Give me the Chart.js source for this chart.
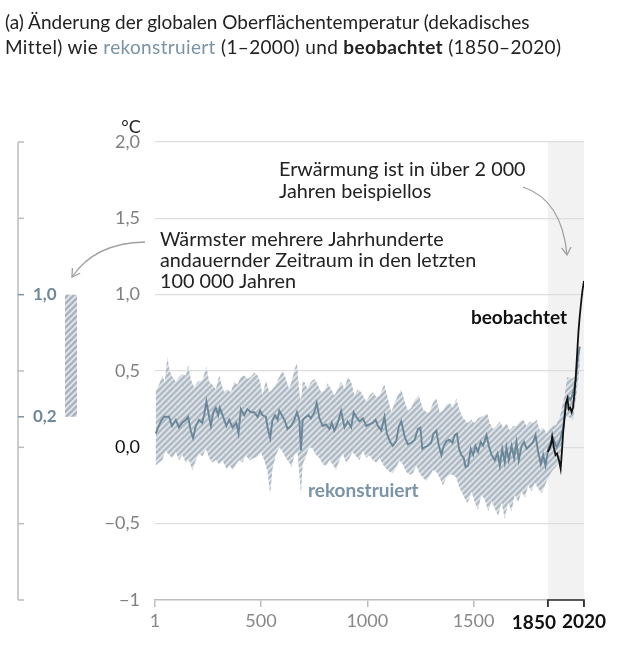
<!DOCTYPE html>
<html lang="de">
<head>
<meta charset="utf-8">
<script src="https://cdn.jsdelivr.net/npm/chart.js@4.4.0/dist/chart.umd.min.js"></script>
<style>
  html, body { margin: 0; padding: 0; background: #fff; }
  #wrap { position: relative; width: 620px; height: 648px; overflow: hidden; }
  #titel { position: absolute; left: 5px; top: 9px; font: 19px Lato, sans-serif; line-height: 25px; color: #222; white-space: nowrap; z-index: 2; }
  #titel .rek { color: #7a93a6; }
  #titel .z2 { letter-spacing: 0.35px; }
  #grafik { position: absolute; left: 0; top: 0; }
</style>
</head>
<body>
<div id="wrap">
  <div id="titel">(a) Änderung der globalen Oberflächentemperatur (dekadisches<br><span class="z2">Mittel) wie <span class="rek">rekonstruiert</span> (1–2000) und <b>beobachtet</b> (1850–2020)</span></div>
  <canvas id="grafik" width="620" height="648"></canvas>
</div>
<script>
// Rekonstruiert (Median, dekadisch)
const rekJahre = [4, 28, 43, 67, 81, 99, 114, 128, 146, 157, 169, 180, 193, 208, 223, 232, 243, 256, 264, 275, 287, 298, 306, 322, 337, 350, 366, 384, 394, 405, 421, 436, 452, 468, 484, 496, 507, 523, 531, 543, 554, 566, 578, 586, 602, 613, 625, 641, 657, 669, 680, 688, 696, 712, 723, 735, 751, 762, 775, 790, 806, 822, 833, 845, 861, 877, 893, 908, 924, 936, 948, 963, 979, 995, 1010, 1026, 1039, 1050, 1066, 1081, 1092, 1108, 1120, 1136, 1149, 1160, 1176, 1191, 1207, 1223, 1238, 1250, 1259, 1270, 1285, 1301, 1312, 1325, 1337, 1349, 1360, 1372, 1385, 1401, 1411, 1422, 1432, 1443, 1454, 1463, 1474, 1487, 1498, 1509, 1521, 1534, 1545, 1561, 1572, 1585, 1600, 1613, 1624, 1635, 1647, 1655, 1666, 1679, 1691, 1702, 1713, 1726, 1738, 1750, 1765, 1781, 1792, 1804, 1817, 1828, 1839, 1852, 1864, 1875, 1891, 1907, 1922, 1935, 1946, 1957, 1969, 1982, 1990, 2000];
const rekMedian = [0.09, 0.17, 0.20, 0.20, 0.14, 0.18, 0.13, 0.16, 0.18, 0.20, 0.11, 0.06, 0.14, 0.18, 0.16, 0.21, 0.30, 0.20, 0.14, 0.23, 0.26, 0.21, 0.26, 0.20, 0.14, 0.18, 0.13, 0.16, 0.09, 0.25, 0.21, 0.25, 0.23, 0.23, 0.20, 0.24, 0.21, 0.20, 0.13, 0.06, 0.18, 0.21, 0.18, 0.24, 0.20, 0.17, 0.12, 0.14, 0.18, 0.23, 0.18, -0.02, 0.18, 0.20, 0.21, 0.19, 0.23, 0.29, 0.19, 0.14, 0.15, 0.12, 0.16, 0.11, 0.16, 0.24, 0.13, 0.17, 0.13, 0.23, 0.20, 0.17, 0.19, 0.14, 0.15, 0.16, 0.18, 0.14, 0.11, 0.20, 0.09, 0.035, 0.01, 0.04, 0.14, 0.17, 0.07, 0.02, 0.03, 0.05, 0.12, 0.13, -0.01, 0.0, 0.01, 0.03, 0.09, 0.11, 0.01, -0.05, 0.01, 0.04, 0.05, 0.03, 0.08, 0.09, -0.01, -0.05, -0.07, -0.13, -0.12, -0.01, -0.05, 0.01, -0.03, 0.035, 0.01, 0.08, 0.01, -0.05, -0.085, -0.04, -0.12, -0.01, -0.10, 0.0, -0.085, 0.01, -0.07, 0.035, -0.085, 0.01, 0.035, -0.01, 0.01, 0.035, 0.08, -0.03, -0.11, -0.05, -0.12, -0.01, 0.035, 0.06, 0.0, 0.045, 0.13, 0.29, 0.33, 0.31, 0.36, 0.44, 0.57, 0.66];

// Obere und untere Grenze des Unsicherheitsbandes
const obenJahre = [4, 20, 35, 47, 59, 70, 83, 99, 114, 130, 146, 157, 169, 185, 201, 224, 243, 256, 271, 287, 303, 311, 326, 342, 358, 374, 389, 405, 421, 436, 452, 468, 484, 496, 507, 523, 539, 554, 570, 586, 602, 617, 633, 649, 660, 669, 680, 688, 696, 704, 719, 735, 751, 767, 783, 798, 814, 830, 845, 861, 877, 893, 908, 924, 940, 955, 971, 979, 995, 1010, 1026, 1042, 1058, 1073, 1081, 1097, 1113, 1128, 1144, 1160, 1176, 1191, 1207, 1223, 1243, 1262, 1278, 1293, 1309, 1325, 1341, 1356, 1372, 1388, 1403, 1419, 1435, 1451, 1467, 1474, 1490, 1506, 1521, 1537, 1553, 1565, 1576, 1592, 1608, 1624, 1639, 1655, 1671, 1687, 1702, 1718, 1734, 1750, 1765, 1781, 1797, 1812, 1828, 1844, 1860, 1875, 1890, 1907, 1930, 1941, 1961, 1977, 1985, 1997, 2000];
const obenWerte = [0.37, 0.41, 0.47, 0.43, 0.59, 0.50, 0.46, 0.43, 0.46, 0.48, 0.47, 0.54, 0.45, 0.39, 0.43, 0.44, 0.53, 0.43, 0.41, 0.38, 0.47, 0.43, 0.36, 0.38, 0.36, 0.43, 0.41, 0.46, 0.47, 0.45, 0.46, 0.49, 0.47, 0.43, 0.34, 0.44, 0.36, 0.38, 0.41, 0.46, 0.50, 0.45, 0.38, 0.46, 0.52, 0.55, 0.36, 0.30, 0.43, 0.43, 0.38, 0.43, 0.45, 0.41, 0.36, 0.37, 0.42, 0.38, 0.34, 0.38, 0.43, 0.38, 0.46, 0.43, 0.34, 0.38, 0.36, 0.34, 0.30, 0.34, 0.36, 0.33, 0.34, 0.39, 0.41, 0.32, 0.23, 0.29, 0.34, 0.38, 0.30, 0.24, 0.26, 0.31, 0.34, 0.25, 0.23, 0.23, 0.29, 0.32, 0.23, 0.24, 0.28, 0.29, 0.26, 0.32, 0.24, 0.19, 0.17, 0.16, 0.18, 0.16, 0.19, 0.20, 0.21, 0.22, 0.16, 0.12, 0.14, 0.17, 0.13, 0.16, 0.11, 0.14, 0.14, 0.17, 0.18, 0.14, 0.17, 0.16, 0.18, 0.11, 0.13, 0.09, 0.12, 0.14, 0.15, 0.20, 0.35, 0.46, 0.45, 0.46, 0.57, 0.66, 0.68];
const untenJahre = [4, 20, 35, 51, 67, 83, 99, 114, 130, 146, 161, 177, 193, 208, 224, 240, 256, 271, 287, 303, 318, 337, 353, 369, 382, 397, 413, 429, 444, 468, 484, 499, 515, 531, 543, 554, 570, 586, 602, 617, 633, 644, 657, 672, 688, 696, 712, 727, 743, 759, 775, 790, 806, 822, 837, 853, 869, 885, 900, 916, 932, 948, 963, 979, 995, 1010, 1026, 1042, 1058, 1073, 1089, 1105, 1120, 1136, 1152, 1167, 1183, 1199, 1215, 1231, 1246, 1262, 1278, 1293, 1309, 1325, 1341, 1356, 1372, 1388, 1403, 1419, 1435, 1451, 1467, 1474, 1490, 1506, 1521, 1537, 1553, 1569, 1585, 1600, 1616, 1632, 1647, 1663, 1679, 1694, 1710, 1726, 1742, 1757, 1773, 1789, 1804, 1820, 1836, 1852, 1867, 1879, 1892, 1907, 1930, 1946, 1969, 1985, 1997, 2000];
const untenWerte = [-0.12, -0.10, -0.085, -0.02, -0.05, -0.07, -0.03, -0.085, -0.05, -0.10, -0.085, -0.15, -0.085, -0.04, -0.06, -0.01, -0.07, -0.10, -0.085, -0.11, -0.085, -0.14, -0.12, -0.15, -0.11, -0.085, -0.10, -0.05, -0.085, -0.07, -0.06, -0.03, -0.085, -0.16, -0.31, -0.14, -0.05, 0.0, -0.03, -0.07, -0.10, -0.13, -0.05, -0.03, -0.31, -0.11, -0.06, 0.01, -0.01, -0.05, -0.07, -0.11, -0.12, -0.085, -0.11, -0.15, -0.085, -0.04, -0.10, -0.07, -0.03, -0.06, -0.085, -0.02, -0.07, -0.05, -0.085, -0.10, -0.07, -0.11, -0.14, -0.16, -0.17, -0.13, -0.085, -0.11, -0.16, -0.18, -0.17, -0.12, -0.17, -0.20, -0.22, -0.19, -0.15, -0.16, -0.20, -0.25, -0.20, -0.18, -0.18, -0.20, -0.27, -0.31, -0.36, -0.36, -0.29, -0.36, -0.41, -0.31, -0.34, -0.42, -0.35, -0.40, -0.45, -0.36, -0.47, -0.36, -0.42, -0.31, -0.36, -0.29, -0.33, -0.25, -0.29, -0.23, -0.27, -0.30, -0.25, -0.20, -0.16, -0.14, -0.12, -0.085, 0.20, 0.20, 0.18, 0.35, 0.50, 0.52];

// Beobachtet 1850–2020
const beobJahre = [1850, 1857, 1865, 1870, 1878, 1886, 1893, 1903, 1910, 1916, 1922, 1929, 1935, 1942, 1948, 1955, 1962, 1968, 1975, 1982, 1988, 1994, 2000, 2008, 2014, 2020];
const beobWerte = [-0.03, -0.01, 0.02, 0.07, 0.0, -0.05, -0.04, -0.09, -0.14, -0.03, 0.10, 0.20, 0.29, 0.32, 0.25, 0.26, 0.23, 0.26, 0.35, 0.48, 0.62, 0.76, 0.86, 0.97, 1.04, 1.09];

// Achsen
const xTickWerte = [1, 500, 1000, 1500, 1850, 2020];
const xTickLabels = ['1', '500', '1000', '1500', '1850', '2020'];
const yTickWerte = [-1, -0.5, 0, 0.5, 1, 1.5, 2];
const yTickLabels = ['−1', '−0,5', '0,0', '0,5', '1,0', '1,5', '2,0'];
const beobZeitraum = [1850, 2020];

// Wärmster Zeitraum der letzten 100 000 Jahre (linke Skala)
const waermsterBereich = [0.2, 1.0];
const waermsterLabels = ['0,2', '1,0'];
const linkeSkalaTicks = [2, 1.5, 1, 0.5, 0.2, 0, -0.5, -1];

const punkte = (jahre, werte) => jahre.map((j, i) => ({ x: j, y: werte[i] }));

const canvas = document.getElementById('grafik');
const ctx0 = canvas.getContext('2d');

// Schraffur-Muster
function schraffur(grund, strich) {
    const s = 6;
    const t = document.createElement('canvas');
    t.width = s; t.height = s;
    const c = t.getContext('2d');
    c.fillStyle = grund;
    c.fillRect(0, 0, s, s);
    c.strokeStyle = strich;
    c.lineWidth = 1.6;
    c.beginPath();
    c.moveTo(0, s); c.lineTo(s, 0);
    c.moveTo(-1, 1); c.lineTo(1, -1);
    c.moveTo(s - 1, s + 1); c.lineTo(s + 1, s - 1);
    c.stroke();
    return ctx0.createPattern(t, 'repeat');
}
const bandMuster = schraffur('#b0bbc5', '#e3e7eb');
const balkenMuster = schraffur('#a9b4bf', '#e6e9ec');

const schrift = 'Lato, sans-serif';

function pfeil(ctx, x0, y0, cx, cy, x1, y1) {
    ctx.save();
    ctx.strokeStyle = '#a0a0a0';
    ctx.lineWidth = 1.3;
    ctx.beginPath();
    ctx.moveTo(x0, y0);
    ctx.quadraticCurveTo(cx, cy, x1, y1);
    ctx.stroke();
    const w = Math.atan2(y1 - cy, x1 - cx);
    ctx.beginPath();
    ctx.moveTo(x1 - 9 * Math.cos(w - 0.55), y1 - 9 * Math.sin(w - 0.55));
    ctx.lineTo(x1, y1);
    ctx.lineTo(x1 - 9 * Math.cos(w + 0.55), y1 - 9 * Math.sin(w + 0.55));
    ctx.stroke();
    ctx.restore();
}

const extras = {
    id: 'extras',
    beforeDraw(chart) {
        const { ctx, chartArea, scales } = chart;
        const x0 = scales.x.getPixelForValue(beobZeitraum[0]);
        const x1 = scales.x.getPixelForValue(beobZeitraum[1]);
        ctx.save();
        ctx.fillStyle = '#f2f2f2';
        ctx.fillRect(x0, chartArea.top, x1 - x0, chartArea.bottom - chartArea.top);
        ctx.restore();
    },
    afterDraw(chart) {
        const { ctx, chartArea, scales } = chart;
        const y = scales.y, x = scales.x;
        ctx.save();

        // Klammer 1850–2020 an der x-Achse
        const bx0 = x.getPixelForValue(beobZeitraum[0]);
        const bx1 = x.getPixelForValue(beobZeitraum[1]);
        ctx.strokeStyle = '#333';
        ctx.lineWidth = 1.6;
        ctx.beginPath();
        ctx.moveTo(bx0, chartArea.bottom + 7);
        ctx.lineTo(bx0, chartArea.bottom);
        ctx.lineTo(bx1, chartArea.bottom);
        ctx.lineTo(bx1, chartArea.bottom + 7);
        ctx.stroke();

        // 1850 steht links neben seinem Tick
        ctx.fillStyle = '#111';
        ctx.font = 'bold 19px ' + schrift;
        ctx.textAlign = 'center';
        ctx.textBaseline = 'middle';
        ctx.fillText(xTickLabels[4], bx0 - 14, chartArea.bottom + 23);

        // °C
        ctx.fillStyle = '#222';
        ctx.font = '18px ' + schrift;
        ctx.fillText('°C', 131, 127);

        // linke Skala
        const lx = 18;
        ctx.strokeStyle = '#bdbdbd';
        ctx.lineWidth = 1.5;
        ctx.beginPath();
        ctx.moveTo(lx, y.getPixelForValue(2));
        ctx.lineTo(lx, y.getPixelForValue(-1));
        ctx.stroke();
        linkeSkalaTicks.forEach(v => {
            const py = y.getPixelForValue(v);
            ctx.strokeStyle = waermsterBereich.includes(v) ? '#7a93a6' : '#bdbdbd';
            ctx.beginPath();
            ctx.moveTo(lx, py);
            ctx.lineTo(lx + 6, py);
            ctx.stroke();
        });
        ctx.fillStyle = '#6f899c';
        ctx.font = 'bold 17px ' + schrift;
        ctx.textAlign = 'left';
        waermsterBereich.forEach((v, i) => {
            ctx.fillText(waermsterLabels[i], 33, y.getPixelForValue(v));
        });
        const yo = y.getPixelForValue(waermsterBereich[1]);
        const yu = y.getPixelForValue(waermsterBereich[0]);
        ctx.fillStyle = balkenMuster;
        ctx.fillRect(65, yo, 12, yu - yo);

        // Texte
        ctx.fillStyle = '#222';
        ctx.font = '19.8px ' + schrift;
        ctx.textAlign = 'left';
        ctx.fillText('Erwärmung ist in über 2 000', 279, 170);
        ctx.fillText('Jahren beispiellos', 279, 192);
        ctx.fillText('Wärmster mehrere Jahrhunderte', 160, 240);
        ctx.fillText('andauernder Zeitraum in den letzten', 160, 261);
        ctx.fillText('100 000 Jahren', 160, 282);

        ctx.font = 'bold 19px ' + schrift;
        ctx.textAlign = 'right';
        ctx.fillStyle = '#111';
        ctx.fillText('beobachtet', 567, 318);
        ctx.textAlign = 'left';
        ctx.fillStyle = '#7a93a6';
        ctx.fillText('rekonstruiert', 308, 491);

        pfeil(ctx, 523, 187, 562, 200, 567, 255);
        pfeil(ctx, 145, 242, 95, 243, 72, 277);

        ctx.restore();
    }
};

new Chart(canvas, {
    type: 'line',
    data: {
        datasets: [
            {
                label: 'oben',
                data: punkte(obenJahre, obenWerte),
                borderWidth: 0,
                pointRadius: 0,
                backgroundColor: bandMuster,
                fill: '+1',
                order: 3
            },
            {
                label: 'unten',
                data: punkte(untenJahre, untenWerte),
                borderWidth: 0,
                pointRadius: 0,
                fill: false,
                order: 4
            },
            {
                label: 'rekonstruiert',
                data: punkte(rekJahre, rekMedian),
                borderColor: '#6a8799',
                borderWidth: 1.9,
                pointRadius: 0,
                fill: false,
                order: 1
            },
            {
                label: 'beobachtet',
                data: punkte(beobJahre, beobWerte),
                borderColor: '#111',
                borderWidth: 1.8,
                pointRadius: 0,
                fill: false,
                order: 0
            }
        ]
    },
    options: {
        responsive: false,
        animation: false,
        layout: { padding: { top: 142, right: 36, bottom: 0, left: 0 } },
        plugins: { legend: { display: false }, tooltip: { enabled: false } },
        scales: {
            x: {
                type: 'linear',
                min: 1,
                max: 2020,
                afterBuildTicks: s => { s.ticks = xTickWerte.map(v => ({ value: v })); },
                afterFit: s => { s.height = 48; },
                border: { color: '#bdbdbd', width: 1.5 },
                grid: {
                    drawOnChartArea: false,
                    tickLength: 7,
                    lineWidth: 1.5,
                    color: c => (c.tick && c.tick.value >= 1850) ? '#333' : '#bdbdbd'
                },
                ticks: {
                    autoSkip: false,
                    maxRotation: 0,
                    padding: 3,
                    callback: (v, i) => (xTickWerte[i] === 1850 ? '' : xTickLabels[i]),
                    color: c => (c.tick && c.tick.value >= 1850) ? '#111' : '#888',
                    font: c => ({ family: schrift, size: (c.tick && c.tick.value >= 1850) ? 19 : 18, weight: (c.tick && c.tick.value >= 1850) ? 'bold' : 'normal' })
                }
            },
            y: {
                min: -1,
                max: 2,
                afterBuildTicks: s => { s.ticks = yTickWerte.map(v => ({ value: v })); },
                afterFit: s => { s.width = 155; },
                border: { display: false },
                grid: {
                    drawTicks: false,
                    color: c => (c.tick && c.tick.value === -1) ? 'rgba(0,0,0,0)' : '#dedede',
                    lineWidth: 1.3
                },
                ticks: {
                    padding: 15,
                    callback: (v, i) => yTickLabels[i],
                    color: c => (c.tick && c.tick.value === 0) ? '#111' : '#808080',
                    font: { family: schrift, size: 18 }
                }
            }
        }
    },
    plugins: [extras]
});
</script>
</body>
</html>
